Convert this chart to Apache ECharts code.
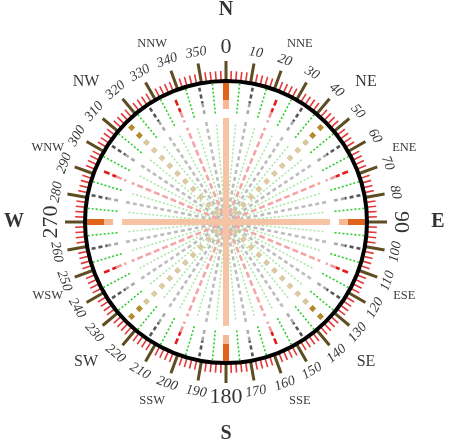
<!DOCTYPE html>
<html><head><meta charset="utf-8">
<script src="https://cdn.jsdelivr.net/npm/echarts@6/dist/echarts.min.js"></script>
<style>html,body{margin:0;padding:0;background:#fff}#c{width:450px;height:447px}</style>
</head><body><div id="c"></div>
<script>
// ---- data ----
const tickLabels = [0,10,20,30,40,50,60,70,80,90,100,110,120,130,140,150,160,170,
                    180,190,200,210,220,230,240,250,260,270,280,290,300,310,320,330,340,350];
const bigLabels = [0,90,180,270];
const compassNames = ['N','NNE','NE','ENE','E','ESE','SE','SSE','S','SSW','SW','WSW','W','WNW','NW','NNW'];
const compassAngles = [0,22.5,45,67.5,90,112.5,135,157.5,180,202.5,225,247.5,270,292.5,315,337.5];
const orangeAngles = [0,90,180,270];
const khakiAngles = [45,135,225,315];
const redAngles = [22.5,67.5,112.5,157.5,202.5,247.5,292.5,337.5];
const grayAngles = [11.25,33.75,56.25,78.75,101.25,123.75,146.25,168.75,
                    191.25,213.75,236.25,258.75,281.25,303.75,326.25,348.75];
const greenAngles = [5.625,16.875,28.125,39.375,50.625,61.875,73.125,84.375,
                     95.625,106.875,118.125,129.375,140.625,151.875,163.125,174.375,
                     185.625,196.875,208.125,219.375,230.625,241.875,253.125,264.375,
                     275.625,286.875,298.125,309.375,320.625,331.875,343.125,354.375];

// ---- styles ----
const serif = "'Liberation Serif','Times New Roman',serif";
const CX = 226, CY = 222;
const groups = [
  {angles: greenAngles, segs: [
    {r:[0,100], color:'#a8e6a2', width:1.5, dash:[2,2]},
    {r:[139,109], color:'#2ecc2e', width:1.6, dash:[2,2]}]},
  {angles: grayAngles, segs: [
    {r:[0,102], color:'#bdbdbd', width:2.6, dash:[4,3]},
    {r:[121,110], color:'#a9a9a9', width:2.6, dash:[4,3]},
    {r:[137,121], color:'#555555', width:2.6, dash:[4,3]}]},
  {angles: redAngles, segs: [
    {r:[0,102], color:'#f3a6a6', width:2.6, dash:[6,3]},
    {r:[119,108], color:'#ef9a9a', width:2.6, dash:[6,3]},
    {r:[132,119], color:'#e31b1b', width:2.6, dash:[6,3]}]},
  {angles: khakiAngles, segs: [
    {r:[104,0], color:'#dccaa2', width:5, dash:[5,6]},
    {r:[115,109], color:'#d8c59a', width:5, dash:[5,6]},
    {r:[136,119], color:'#b38a2c', width:5, dash:[5,6]}]},
  {angles: orangeAngles, segs: [
    {r:[0,104], color:'#f6c4a5', width:6},
    {r:[113,122], color:'#f4b892', width:6},
    {r:[122,139], color:'#e0651c', width:6}]}
];

const series = [];
groups.forEach(g => g.angles.forEach(a => g.segs.forEach(s => {
  series.push({
    type:'line', coordinateSystem:'polar', polarIndex:1, symbol:'none', silent:true,
    animation:false, clip:false,
    lineStyle:{color:s.color, width:s.width, type:s.dash || 'solid', cap:'butt'},
    data:[[s.r[0], a],[s.r[1], a]]
  });
})));

function rot(v){ return v <= 90 ? -v : (v >= 270 ? 360 - v : 180 - v); }

series.push({
  type:'scatter', coordinateSystem:'polar', polarIndex:1, silent:true, animation:false, clip:false,
  symbol:'circle', symbolSize:1, itemStyle:{color:'rgba(0,0,0,0)'},
  label:{show:true, position:'inside', color:'#000', fontFamily:serif},
  data: tickLabels.map(v => {
    const big = bigLabels.indexOf(v) >= 0;
    return {value:[big ? 175 : 172, v], label:{
      formatter:String(v), rotate:rot(v), fontSize: big ? 22 : 14,
      fontStyle: big ? 'normal' : 'italic'}};
  })
});

series.push({
  type:'scatter', coordinateSystem:'polar', polarIndex:1, silent:true, animation:false, clip:false,
  symbol:'circle', symbolSize:1, itemStyle:{color:'rgba(0,0,0,0)'},
  label:{show:true, position:'inside', color:'#000', fontFamily:serif},
  data: compassNames.map((n, i) => {
    const len = n.length;
    return {value:[len === 1 ? 212 : (len === 2 ? 198 : 193), compassAngles[i]], label:{
      formatter:n, fontSize: len === 1 ? 20 : (len === 2 ? 16 : 12.5),
      fontWeight: len === 1 ? 'bold' : 'normal'}};
  })
});

const chart = echarts.init(document.getElementById('c'), null, {renderer:'canvas'});
chart.setOption({
  animation:false,
  polar:[{center:[CX, CY], radius:141}, {center:[CX, CY], radius:215}],
  angleAxis:[
    {polarIndex:0, type:'value', min:0, max:360, interval:10, startAngle:90, clockwise:true, z:5,
     axisLine:{lineStyle:{color:'#000', width:4}},
     axisTick:{length:20, lineStyle:{color:'#5f4d22', width:3}},
     minorTick:{show:true, splitNumber:5, length:10, lineStyle:{color:'#e23a3a', width:1.6}},
     axisLabel:{show:false}, splitLine:{show:false}},
    {polarIndex:1, type:'value', min:0, max:360, startAngle:90, clockwise:true, show:false}
  ],
  radiusAxis:[
    {polarIndex:0, type:'value', min:0, max:141, show:false},
    {polarIndex:1, type:'value', min:0, max:215, show:false}
  ],
  series: series
});
</script></body></html>
